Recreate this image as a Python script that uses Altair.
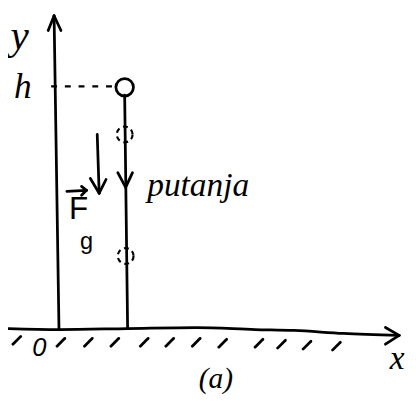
import altair as alt
import pandas as pd

# Diagram coordinates: origin at O, y pointing up (units ~ pixels)
# Axis lines
yaxis_x = [0, -5]
yaxis_y = [0, 319]
yarrow_x = [-11, 2]
yarrow_y = [304, 304]

xaxis_x = [-52, 0, 70, 140, 200, 240, 290, 347]
xaxis_y = [0, -1, 0, 1, -1, -2, -5, -7]
xarrow_x = [333, 333]
xarrow_y = [1, -16]

# hatch marks under the ground line (centres)
hatch_cx = [-43, 2, 30, 57, 87, 113, 140, 167, 204, 227, 253, 283]
hatch_cy = [-12, -14, -14, -14, -14, -14, -14, -15, -15, -16, -17, -18]

# height h and object
h_level = 247
dash_x = [-8, 55]
ball_x = [67]
ball_y = [246]

# trajectory
traj_x = [67, 70]
traj_y = [238, 0]
traj_head = [(60, 159), (75, 159)]
traj_tip = (68, 144)
ghost_x = [67, 68]
ghost_y = [198, 74]

# gravity force arrow
force_x = [39, 41]
force_y = [198, 138]
force_head = [(32, 153), (48, 152)]
vec_x = [8, 28]
vec_y = [140, 141]
vec_head = [(23, 145), (23, 136)]

segs = []
segs.append((yaxis_x[0], yaxis_y[0], yaxis_x[1], yaxis_y[1]))
for bx, by in zip(yarrow_x, yarrow_y):
    segs.append((bx, by, yaxis_x[1], yaxis_y[1]))
for bx, by in zip(xarrow_x, xarrow_y):
    segs.append((bx, by, xaxis_x[-1], xaxis_y[-1]))
for cx, cy in zip(hatch_cx, hatch_cy):
    segs.append((cx - 4, cy - 4, cx + 4, cy + 4))
segs.append((traj_x[0], traj_y[0], traj_x[1], traj_y[1]))
for bx, by in traj_head:
    segs.append((bx, by, traj_tip[0], traj_tip[1]))
segs.append((force_x[0], force_y[0], force_x[1], force_y[1]))
for bx, by in force_head:
    segs.append((bx, by, force_x[1], force_y[1]))
segs.append((vec_x[0], vec_y[0], vec_x[1], vec_y[1]))
for bx, by in vec_head:
    segs.append((bx, by, vec_x[1], vec_y[1]))
seg_df = pd.DataFrame(segs, columns=["x", "y", "x2", "y2"])

X = alt.Scale(domain=[-52, 356])
Y = alt.Scale(domain=[-71, 323])

rules = alt.Chart(seg_df).mark_rule(color="black", strokeWidth=2.8, strokeCap="round").encode(
    x=alt.X("x:Q", scale=X, axis=None),
    y=alt.Y("y:Q", scale=Y, axis=None),
    x2="x2:Q", y2="y2:Q",
)

ground = alt.Chart(pd.DataFrame({"x": xaxis_x, "y": xaxis_y, "o": list(range(len(xaxis_x)))})).mark_line(
    color="black", strokeWidth=2.8, strokeCap="round", interpolate="monotone"
).encode(x=alt.X("x:Q", scale=X, axis=None), y=alt.Y("y:Q", scale=Y, axis=None), order="o:Q")

dash = alt.Chart(pd.DataFrame({"x": [dash_x[0]], "x2": [dash_x[1]], "y": [h_level]})).mark_rule(
    color="black", strokeWidth=2.5, strokeDash=[6, 8]
).encode(x=alt.X("x:Q", scale=X, axis=None), x2="x2:Q", y=alt.Y("y:Q", scale=Y, axis=None))

ball = alt.Chart(pd.DataFrame({"x": ball_x, "y": ball_y})).mark_point(
    shape="circle", size=320, filled=False, color="black", strokeWidth=2.8, opacity=1
).encode(x=alt.X("x:Q", scale=X, axis=None), y=alt.Y("y:Q", scale=Y, axis=None))

ghosts = alt.Chart(pd.DataFrame({"x": ghost_x, "y": ghost_y})).mark_point(
    shape="circle", size=260, filled=False, color="black", strokeWidth=2.2, strokeDash=[5, 4], opacity=1
).encode(x=alt.X("x:Q", scale=X, axis=None), y=alt.Y("y:Q", scale=Y, axis=None))


def label(text, x, y, size, style="normal", font="Liberation Serif", baseline="middle"):
    return alt.Chart(pd.DataFrame({"t": [text], "x": [x], "y": [y]})).mark_text(
        font=font, fontSize=size, fontStyle=style, color="black", baseline=baseline, align="center"
    ).encode(x=alt.X("x:Q", scale=X, axis=None), y=alt.Y("y:Q", scale=Y, axis=None), text="t:N")


texts = [
    label("y", -40, 298, 42, "italic"),
    label("h", -37, 246, 36, "italic"),
    label("0", -20, -20, 26, "italic", font="Liberation Sans"),
    label("x", 345, -31, 34, "italic"),
    label("(a)", 160, -52, 30, "italic"),
    label("putanja", 142, 135, 34, "italic", baseline="alphabetic"),
    label("F", 20, 122, 32, "normal", font="Liberation Sans"),
    label("g", 28, 88, 24, "normal", font="Liberation Sans"),
]

chart = alt.layer(ground, rules, dash, ball, ghosts, *texts).properties(
    width=408, height=394, padding=0, autosize=alt.AutoSizeParams(type="none")
).configure_view(stroke=None)

chart.save("out.html", embed_options={"renderer": "svg", "actions": False})
